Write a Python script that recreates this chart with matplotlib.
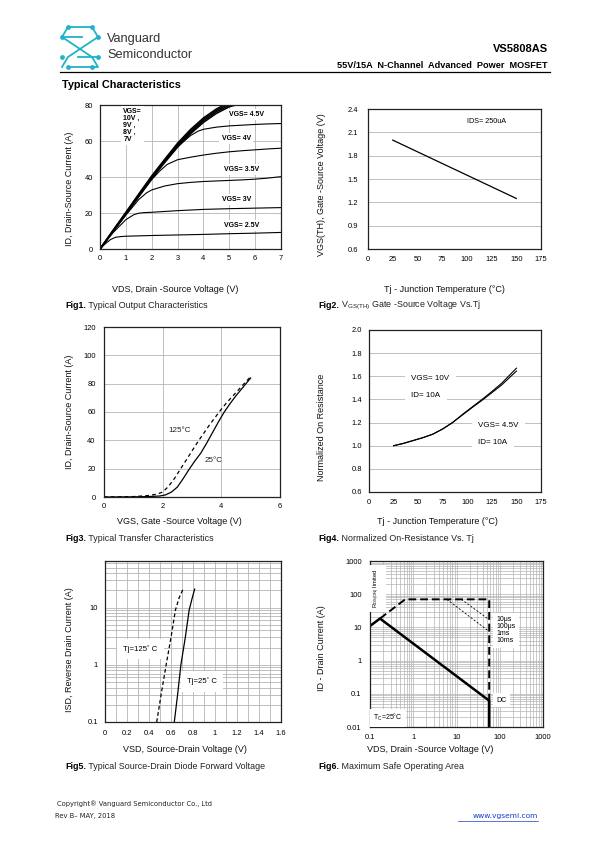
import matplotlib
matplotlib.use('Agg')
import matplotlib.pyplot as plt
from matplotlib import font_manager

plt.rcParams['font.family'] = ['Liberation Sans', 'DejaVu Sans']
plt.rcParams['mathtext.fontset'] = 'custom'
plt.rcParams['mathtext.rm'] = 'Liberation Sans'

names = {f.name for f in font_manager.fontManager.ttflist}
NARROW = 'Liberation Sans Narrow' if 'Liberation Sans Narrow' in names else 'Liberation Sans'

# ---- Fig1: output characteristics
vds_lin = [0, 0.5, 1, 1.5, 2, 2.5, 3, 3.5, 4, 4.5, 5, 5.5]
id_10v = [0, 10.3, 20.4, 30.6, 40.6, 49.8, 58.8, 66.4, 72.8, 77.8, 81.5, 84]
id_9v = [0, 10.1, 20.0, 30.1, 40.1, 49.2, 58.0, 65.6, 72.0, 77.0, 80.6, 83]
id_8v = [0, 9.9, 19.6, 29.6, 39.6, 48.6, 57.3, 64.8, 71.2, 76.2, 79.8, 82]
id_7v = [0, 9.7, 19.3, 29.2, 39.1, 48.0, 56.6, 64.0, 70.3, 75.3, 79.0, 81]
vds_45 = [0, 0.5, 1, 1.5, 2, 2.5, 3, 3.5, 3.8, 4, 4.5, 5, 5.5, 6, 6.5, 7]
id_45v = [0, 9.8, 19.5, 29.4, 39.3, 48.3, 56.8, 63.0, 65.5, 66.5, 67.7, 68.4, 68.8, 69.2, 69.5, 69.7]
vds_4 = [0, 0.5, 1, 1.5, 2, 2.3, 2.6, 3, 3.5, 4, 4.5, 5, 5.5, 6, 6.5, 7]
id_4v = [0, 9.7, 19.2, 29, 38.5, 43.2, 47, 49.6, 51, 52.2, 53.2, 54, 54.6, 55.1, 55.6, 56]
vds_35 = [0, 0.5, 1, 1.5, 1.8, 2, 2.5, 3, 3.5, 4, 4.5, 5, 5.5, 6, 6.5, 7]
id_35v = [0, 9.5, 18.8, 27.5, 31.2, 32.8, 35, 36.3, 37, 37.5, 37.8, 38.1, 38.4, 38.8, 39.4, 40.2]
vds_3 = [0, 0.5, 1, 1.3, 1.5, 1.7, 2, 3, 4, 5, 6, 7]
id_3v = [0, 9, 16.3, 19, 19.9, 20.2, 20.4, 21.3, 22, 22.4, 22.7, 23]
vds_25 = [0, 0.2, 0.4, 0.6, 0.8, 1, 2, 3, 4, 5, 6, 7]
id_25v = [0, 2.8, 5.2, 6.5, 6.9, 7.1, 7.5, 7.8, 8.1, 8.5, 8.8, 9.2]

# ---- Fig2: threshold voltage vs Tj
tj_th = [25, 150]
vth = [2.0, 1.25]

# ---- Fig3: transfer characteristics
vgs_25c = [0, 1.0, 1.5, 1.9, 2.1, 2.3, 2.5, 2.7, 2.9, 3.1, 3.3, 3.5, 3.7, 3.9, 4.1, 4.3, 4.5, 4.7, 4.9, 5.0]
id_25c = [0, 0.1, 0.3, 0.7, 1.5, 3.5, 7, 13, 19.5, 25.5, 31, 38, 45.5, 53, 60, 66, 71.5, 76.5, 81.5, 84]
vgs_125c = [0, 1.0, 1.5, 1.8, 2.0, 2.2, 2.4, 2.6, 2.8, 3.0, 3.2, 3.4, 3.6, 3.8, 4.0, 4.2, 4.4, 4.6, 4.8, 5.0]
id_125c = [0, 0.3, 1, 2, 3.5, 7.5, 13, 19.5, 26, 32.5, 39, 45, 51, 56.5, 62, 67, 71.5, 76, 80.5, 85]

# ---- Fig4: normalized on-resistance
tj_r = [25, 35, 45, 55, 65, 75, 85, 95, 105, 115, 125, 135, 150]
rds_10v = [1.0, 1.02, 1.045, 1.07, 1.1, 1.145, 1.2, 1.27, 1.335, 1.4, 1.468, 1.54, 1.67]
rds_45v = [1.0, 1.02, 1.045, 1.07, 1.1, 1.145, 1.2, 1.265, 1.33, 1.392, 1.458, 1.525, 1.645]

# ---- Fig5: diode forward voltage
vsd_125 = [0.47, 0.51, 0.556, 0.6, 0.64, 0.675, 0.71]
isd_125 = [0.1, 0.3, 1, 3, 9, 15, 21]
vsd_25 = [0.63, 0.66, 0.69, 0.73, 0.765, 0.79, 0.815]
isd_25 = [0.1, 0.3, 1, 3, 9, 14, 21]

# ---- Fig6: safe operating area
dc_v = [0.1, 0.17, 57, 57]
dc_i = [11, 18.5, 0.062, 0.01]
lim_v = [0.17, 0.65, 57, 57]
lim_i = [18.5, 70, 70, 0.062]
p10ms_v = [6, 57]
p10ms_i = [70, 7.5]
p1ms_v = [13, 57]
p1ms_i = [70, 17]

W, H = 595, 842
fig = plt.figure(figsize=(W / 100, H / 100), dpi=100)


def box(x0, y0, x1, y1):
    return [x0 / W, 1 - y1 / H, (x1 - x0) / W, (y1 - y0) / H]


GRID = '#b4b4b4'


def style(ax, font, xpad, ypad):
    for s in ax.spines.values():
        s.set_linewidth(0.9)
        s.set_color('#222222')
    ax.tick_params(length=0, labelsize=5.4, pad=0)
    ax.tick_params(axis='x', pad=xpad)
    ax.tick_params(axis='y', pad=ypad)
    for lab in ax.get_xticklabels() + ax.get_yticklabels():
        lab.set_family(font)
    ax.set_axisbelow(True)


wbox = dict(facecolor='white', edgecolor='none', pad=1.5)

# Fig1
ax1 = fig.add_axes(box(100, 105, 281, 249))
for yy in (id_10v, id_9v, id_8v, id_7v):
    ax1.plot(vds_lin, yy, color='black', lw=1.1)
ax1.plot(vds_45, id_45v, color='black', lw=0.8)
ax1.plot(vds_4, id_4v, color='black', lw=0.8)
ax1.plot(vds_35, id_35v, color='black', lw=0.8)
ax1.plot(vds_3, id_3v, color='black', lw=0.8)
ax1.plot(vds_25, id_25v, color='black', lw=0.8)
ax1.set_xlim(0, 7)
ax1.set_ylim(0, 80)
ax1.set_xticks(range(0, 8))
ax1.set_yticks([0, 20, 40, 60, 80])
ax1.grid(True, color=GRID, lw=0.6)
fs1 = dict(fontsize=5, fontweight='bold', family=NARROW)
ax1.text(0.9, 78.5, 'VGS=\n10V ,\n9V ,\n8V ,\n7V', va='top', ha='left', linespacing=1.0, bbox=wbox, **fs1)
ax1.text(5.0, 74.9, 'VGS= 4.5V', va='center', ha='left', bbox=wbox, **fs1)
ax1.text(4.7, 61.5, 'VGS= 4V', va='center', ha='left', bbox=wbox, **fs1)
ax1.text(4.78, 44, 'VGS= 3.5V', va='center', ha='left', bbox=wbox, **fs1)
ax1.text(4.7, 27.7, 'VGS= 3V', va='center', ha='left', bbox=wbox, **fs1)
ax1.text(4.78, 13.1, 'VGS= 2.5V', va='center', ha='left', bbox=wbox, **fs1)
style(ax1, NARROW, 4, 5)

# Fig2
ax2 = fig.add_axes(box(368, 109, 541, 249))
ax2.plot(tj_th, vth, color='black', lw=0.9)
ax2.set_xlim(0, 175)
ax2.set_ylim(0.6, 2.4)
ax2.set_xticks(range(0, 176, 25))
ax2.set_yticks([0.6, 0.9, 1.2, 1.5, 1.8, 2.1, 2.4])
ax2.set_yticklabels(['0.6', '0.9', '1.2', '1.5', '1.8', '2.1', '2.4'])
ax2.grid(True, axis='y', color=GRID, lw=0.6)
ax2.text(100, 2.24, 'IDS= 250uA', fontsize=5.2, family=NARROW, va='center', ha='left')
style(ax2, NARROW, 5, 7)

# Fig3
ax3 = fig.add_axes(box(104, 327, 280, 497))
ax3.plot(vgs_25c, id_25c, color='black', lw=0.9)
ax3.plot(vgs_125c, id_125c, color='black', lw=0.9, ls=(0, (3, 2.5)))
ax3.set_xlim(0, 6)
ax3.set_ylim(0, 120)
ax3.set_xticks([0, 2, 4, 6])
ax3.set_yticks(range(0, 121, 20))
ax3.grid(True, color=GRID, lw=0.6)
ax3.text(2.19, 47, '125\u00b0C', fontsize=5.8, va='center', ha='left', color='#222222')
ax3.text(3.44, 25.5, '25\u00b0C', fontsize=5.8, va='center', ha='left', color='#222222')
style(ax3, 'Liberation Sans', 4, 6)

# Fig4
ax4 = fig.add_axes(box(369, 330, 541, 492))
ax4.plot(tj_r, rds_10v, color='black', lw=0.8)
ax4.plot(tj_r, rds_45v, color='black', lw=0.8)
ax4.set_xlim(0, 175)
ax4.set_ylim(0.6, 2.0)
ax4.set_xticks(range(0, 176, 25))
ax4.set_yticks([0.6, 0.8, 1.0, 1.2, 1.4, 1.6, 1.8, 2.0])
ax4.set_yticklabels(['0.6', '0.8', '1.0', '1.2', '1.4', '1.6', '1.8', '2.0'])
ax4.grid(True, axis='y', color=GRID, lw=0.6)
fs4 = dict(fontsize=5.8, family=NARROW, va='center', ha='left')
wbox4 = dict(facecolor='white', edgecolor='none', pad=4.5)
ax4.text(43, 1.577, 'VGS= 10V', bbox=wbox4, **fs4)
ax4.text(43, 1.434, 'ID= 10A', bbox=wbox4, **fs4)
ax4.text(111, 1.175, 'VGS= 4.5V', bbox=wbox4, **fs4)
ax4.text(111, 1.03, 'ID= 10A', bbox=wbox4, **fs4)
style(ax4, NARROW, 5, 5)

# Fig5
ax5 = fig.add_axes(box(105, 561, 281, 722))
ax5.plot(vsd_125, isd_125, color='black', lw=0.9, ls=(0, (3, 2)))
ax5.plot(vsd_25, isd_25, color='black', lw=0.9)
ax5.set_yscale('log')
ax5.set_xlim(0, 1.6)
ax5.set_ylim(0.1, 65)
ax5.set_xticks([0, 0.2, 0.4, 0.6, 0.8, 1.0, 1.2, 1.4, 1.6])
ax5.set_xticklabels(['0', '0.2', '0.4', '0.6', '0.8', '1', '1.2', '1.4', '1.6'])
ax5.set_xticks([i / 10 for i in range(1, 16, 2)], minor=True)
ax5.set_yticks([0.1, 1, 10])
ax5.set_yticklabels(['0.1', '1', '10'])
ax5.tick_params(which='minor', length=0, labelleft=False)
ax5.grid(True, which='both', color=GRID, lw=0.6)
wbox5 = dict(facecolor='white', edgecolor='none', pad=4.5)
ax5.text(0.167, 1.87, 'Tj=125\u02da C', fontsize=5.6, va='center', ha='left', bbox=wbox5)
ax5.text(0.744, 0.51, 'Tj=25\u02da C', fontsize=5.6, va='center', ha='left', bbox=wbox5)
style(ax5, NARROW, 6, 5)

# Fig6
ax6 = fig.add_axes(box(370, 561, 543, 727))
ax6.set_xscale('log')
ax6.set_yscale('log')
ax6.plot(p10ms_v, p10ms_i, color='black', lw=0.6, ls=(0, (2.5, 2)))
ax6.plot(p1ms_v, p1ms_i, color='black', lw=0.6, ls=(0, (2.5, 2)))
ax6.plot(lim_v, lim_i, color='black', lw=1.4, ls=(0, (4, 2)))
ax6.plot(dc_v, dc_i, color='black', lw=1.8)
ax6.set_xlim(0.1, 1000)
ax6.set_ylim(0.01, 1000)
ax6.set_xticks([0.1, 1, 10, 100, 1000])
ax6.set_xticklabels(['0.1', '1', '10', '100', '1000'])
ax6.set_yticks([0.01, 0.1, 1, 10, 100, 1000])
ax6.set_yticklabels(['0.01', '0.1', '1', '10', '100', '1000'])
ax6.tick_params(which='minor', length=0, labelleft=False, labelbottom=False)
ax6.grid(True, which='both', color=GRID, lw=0.5)
wbox6 = dict(facecolor='white', edgecolor='none', pad=2.5)
ax6.text(0.145, 150, 'R$\\mathregular{_{DS(ON)}}$ limited', fontsize=4.2, rotation=90,
         va='center', ha='center', bbox=wbox6)
ax6.text(85, 22, '10\u03bcs\n100\u03bcs\n1ms\n10ms', fontsize=5, va='top', ha='left',
         linespacing=1.0, bbox=wbox6)
ax6.text(85, 0.063, 'DC', fontsize=5, va='center', ha='left', bbox=wbox6)
ax6.text(0.118, 0.019, 'T$\\mathregular{_C}$=25\u00b0C', fontsize=5, va='center', ha='left', bbox=wbox6)
style(ax6, 'Liberation Sans', 5, 6)

# ---- page furniture (pixel coordinates)
pg = fig.add_axes([0, 0, 1, 1], zorder=-1)
pg.set_xlim(0, W)
pg.set_ylim(H, 0)
pg.axis('off')

teal = '#1fb3c8'
pg.plot([68, 92], [27, 27], color=teal, lw=1.3)
pg.plot([68, 62, 92, 98, 92, 68], [27, 37, 57, 67, 67, 67], color=teal, lw=1.3)
pg.plot([92, 98, 68, 62], [27, 37, 57, 67], color=teal, lw=1.3)
pg.plot([62, 82], [37, 37], color=teal, lw=1.3)
pg.plot([78, 98], [57, 57], color=teal, lw=1.3)
pg.scatter([68, 92, 62, 98, 62, 98, 68, 92], [27, 27, 37, 37, 57, 57, 67, 67], s=6, color=teal, zorder=3)

pg.text(107, 39, 'Vanguard', fontsize=9.2, color='#333333', va='center', ha='left')
pg.text(107, 55.5, 'Semiconductor', fontsize=9.2, color='#333333', va='center', ha='left')
pg.text(548, 49, 'VS5808AS', fontsize=8, fontweight='bold', va='center', ha='right')
pg.text(548, 66, '55V/15A  N-Channel  Advanced  Power  MOSFET', fontsize=6.6, fontweight='bold',
        va='center', ha='right')
pg.plot([60, 550], [72, 72], color='black', lw=0.9)
pg.text(62, 85, 'Typical Characteristics', fontsize=7.8, fontweight='bold', va='center', ha='left')

# axis labels
lab = dict(fontsize=6.5, color='#111111', va='center', ha='center')
pg.text(69, 189, 'ID, Drain-Source Current (A)', rotation=90, **lab)
pg.text(175, 290, 'VDS, Drain -Source Voltage (V)', **lab)
pg.text(321, 185, 'VGS(TH), Gate -Source Voltage (V)', rotation=90, **lab)
pg.text(444, 290, 'Tj - Junction Temperature (\u00b0C)', **lab)
pg.text(69, 412, 'ID, Drain-Source Current (A)', rotation=90, **lab)
pg.text(179, 522, 'VGS, Gate -Source Voltage (V)', **lab)
pg.text(322, 427, 'Normalized On Resistance', rotation=90, **lab)
pg.text(437, 522, 'Tj - Junction Temperature (\u00b0C)', **lab)
pg.text(69, 650, 'ISD, Reverse Drain Current (A)', rotation=90, **lab)
pg.text(185, 749, 'VSD, Source-Drain Voltage (V)', **lab)
pg.text(322, 648, 'ID - Drain Current (A)', rotation=90, **lab)
pg.text(430, 749, 'VDS, Drain -Source Voltage (V)', **lab)

captions = [
    (65, 308, 'Fig1.', ' Typical Output Characteristics'),
    (318, 308, 'Fig2.', ' V$\\mathregular{_{GS(TH)}}$ Gate -Source Voltage Vs.Tj'),
    (65, 541, 'Fig3.', ' Typical Transfer Characteristics'),
    (318, 541, 'Fig4.', ' Normalized On-Resistance Vs. Tj'),
    (65, 769, 'Fig5.', ' Typical Source-Drain Diode Forward Voltage'),
    (318, 769, 'Fig6.', ' Maximum Safe Operating Area'),
]
for cx, cy, bold, rest in captions:
    t = pg.text(cx, cy, bold, fontsize=6.4, fontweight='bold', va='baseline', ha='left')
    pg.annotate(rest, xy=(1, cy), xycoords=(t, 'data'), va='baseline', ha='left',
                fontsize=6.4, color='#222222')

pg.text(57, 804, 'Copyright\u00ae Vanguard Semiconductor Co., Ltd', fontsize=4.9, family='DejaVu Sans',
        va='center', ha='left', color='#222222')
pg.text(55, 816, 'Rev B\u2013 MAY, 2018', fontsize=4.9, family='DejaVu Sans', va='center', ha='left',
        color='#222222')
pg.text(538, 816, 'www.vgsemi.com', fontsize=5.4, family='DejaVu Sans', va='center', ha='right',
        color='#1a3cc8')
pg.plot([458, 538], [820.5, 820.5], color='#1a3cc8', lw=0.5)

fig.savefig('out.png', dpi=100)
